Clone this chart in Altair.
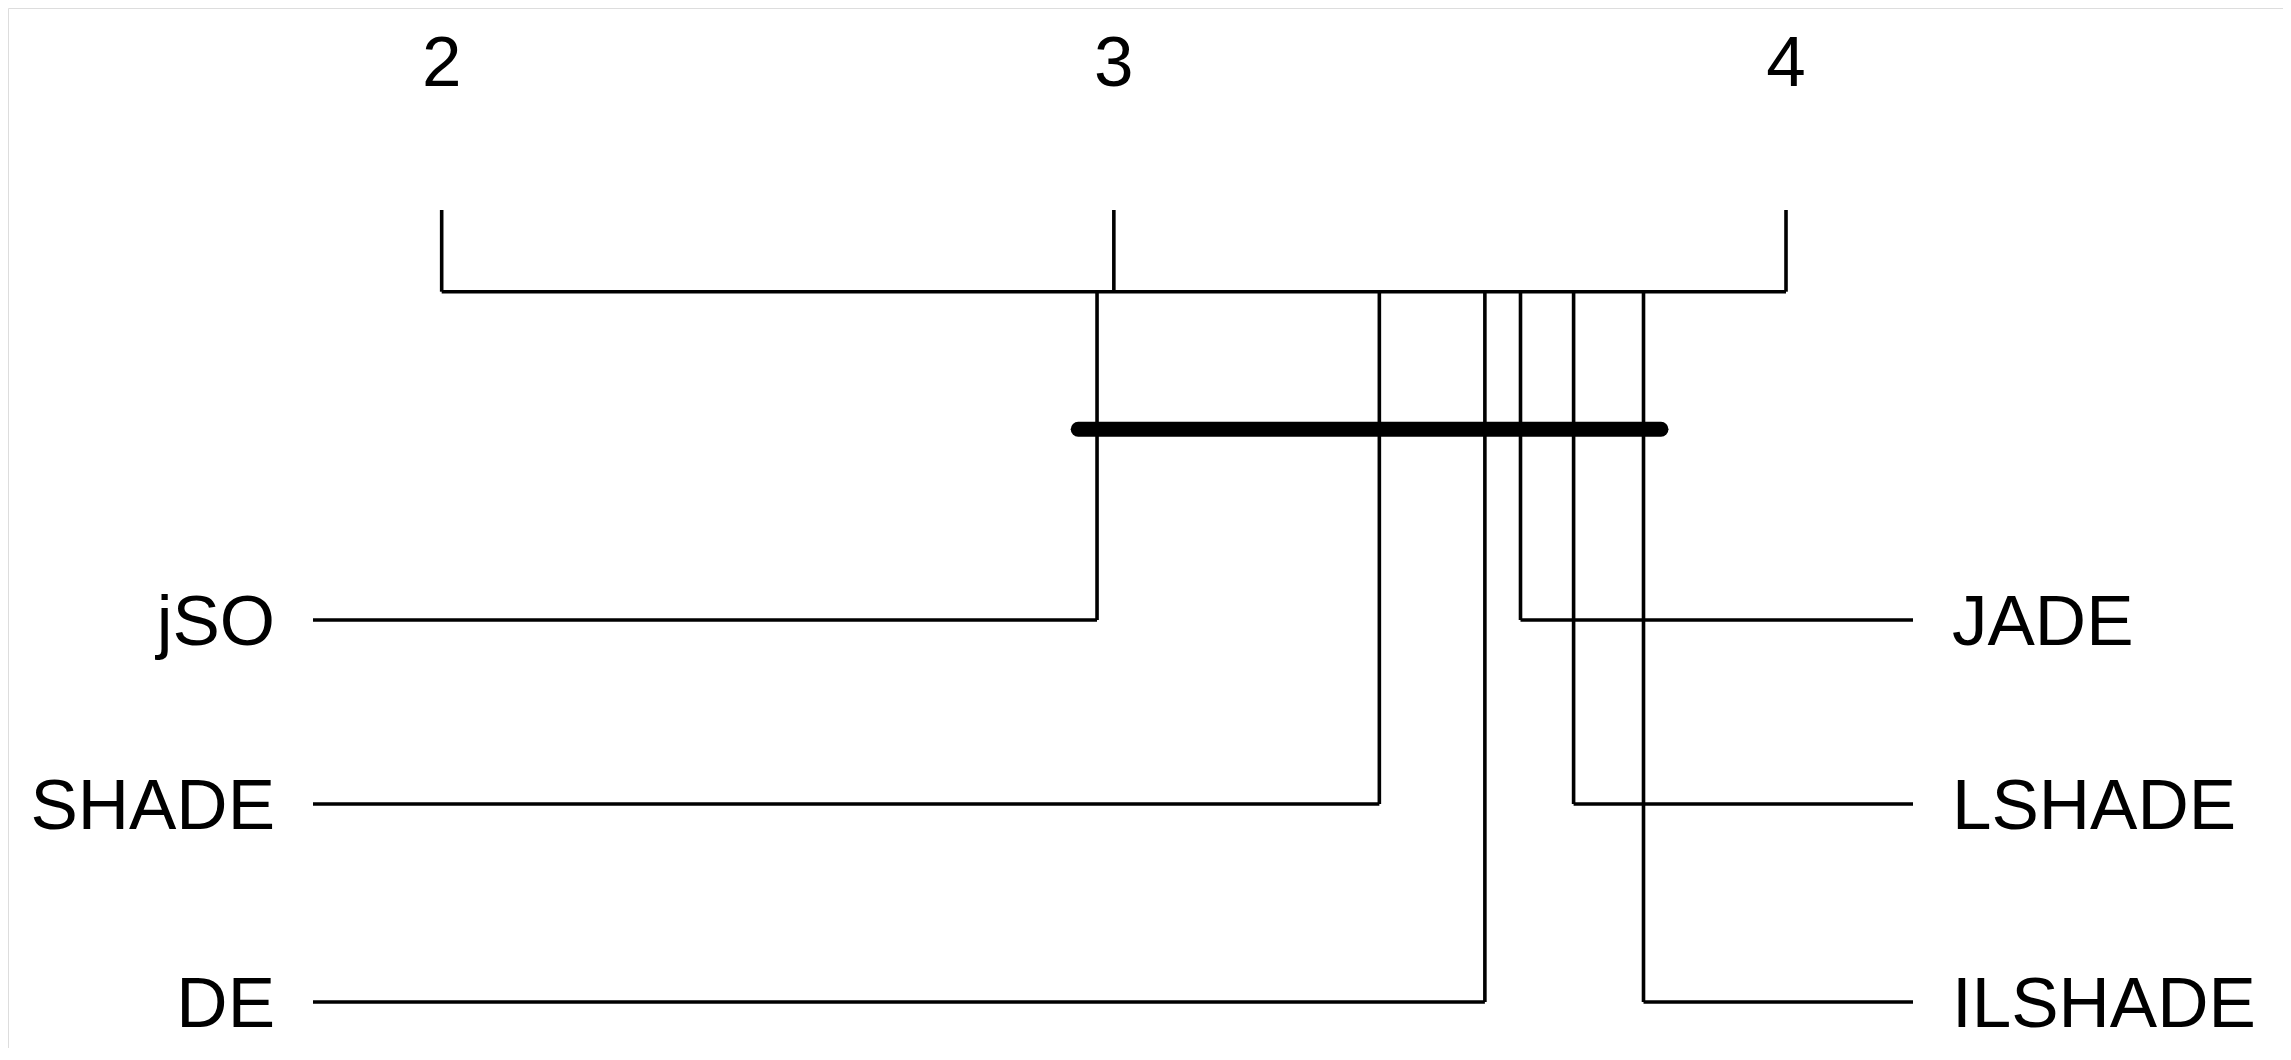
import altair as alt
import pandas as pd

# ---- data ----
methods = ["jSO", "SHADE", "DE", "JADE", "LSHADE", "ILSHADE"]
avg_ranks = [2.975, 3.395, 3.552, 3.605, 3.684, 3.788]
sides = ["left", "left", "left", "right", "right", "right"]
rows = [0, 1, 2, 0, 1, 2]
axis_ticks = [2, 3, 4]
cd_bar = [2.947, 3.814]  # group of methods not significantly different

df = pd.DataFrame({"method": methods, "rank": avg_ranks, "side": sides, "row": rows})
ticks_df = pd.DataFrame({"tick": axis_ticks})
axis_df = pd.DataFrame({"start": [axis_ticks[0]], "end": [axis_ticks[-1]]})
bar_df = pd.DataFrame({"start": [cd_bar[0]], "end": [cd_bar[1]]})

# ---- layout ----
W, H = 2275, 1040
FONT = "Liberation Sans"
FS = 71
SW = 3.6

x_scale = alt.Scale(domain=[1.3548, 4.7394], range=[0, W], nice=False, zero=False)
y_scale = alt.Scale(domain=[0, 1, 2], range=[612, 796, 994], zero=False, nice=False)

AXIS_Y = 283.7
TICK_TOP = 202
BAR_Y = 421.3
LABEL_Y = 53

x_enc = lambda f: alt.X(f, type="quantitative", scale=x_scale, axis=None)
y_enc = alt.Y("row:Q", scale=y_scale, axis=None)

axis_line = alt.Chart(axis_df).mark_rule(color="black", strokeWidth=SW).encode(
    x=x_enc("start"), x2="end", y=alt.value(AXIS_Y)
)
tick_marks = alt.Chart(ticks_df).mark_rule(color="black", strokeWidth=SW).encode(
    x=x_enc("tick"), y=alt.value(TICK_TOP), y2=alt.value(AXIS_Y)
)
tick_labels = alt.Chart(ticks_df).mark_text(
    font=FONT, fontSize=FS, color="black", align="center", baseline="middle", dy=4
).encode(x=x_enc("tick"), y=alt.value(LABEL_Y), text="tick:Q")

verticals = alt.Chart(df).mark_rule(color="black", strokeWidth=SW).encode(
    x=x_enc("rank"), y=y_enc, y2=alt.value(AXIS_Y)
)
left_h = alt.Chart(df).transform_filter(alt.datum.side == "left").mark_rule(
    color="black", strokeWidth=SW
).encode(x=x_enc("rank"), x2=alt.value(305), y=y_enc)
right_h = alt.Chart(df).transform_filter(alt.datum.side == "right").mark_rule(
    color="black", strokeWidth=SW
).encode(x=x_enc("rank"), x2=alt.value(1905), y=y_enc)

left_lab = alt.Chart(df).transform_filter(alt.datum.side == "left").mark_text(
    font=FONT, fontSize=FS, color="black", align="right", baseline="middle", dy=4
).encode(x=alt.value(267), y=y_enc, text="method:N")
right_lab = alt.Chart(df).transform_filter(alt.datum.side == "right").mark_text(
    font=FONT, fontSize=FS, color="black", align="left", baseline="middle", dy=4
).encode(x=alt.value(1944), y=y_enc, text="method:N")

cd = alt.Chart(bar_df).mark_rule(color="black", strokeWidth=15, strokeCap="round").encode(
    x=x_enc("start"), x2="end", y=alt.value(BAR_Y)
)

chart = alt.layer(
    axis_line, tick_marks, tick_labels, verticals, left_h, right_h, left_lab, right_lab, cd
).properties(
    width=W, height=H, autosize=alt.AutoSizeParams(type="none"), padding=0
).configure_view(stroke=None).configure(background="white")

chart.save("out.html", embed_options={"renderer": "svg", "actions": False})
